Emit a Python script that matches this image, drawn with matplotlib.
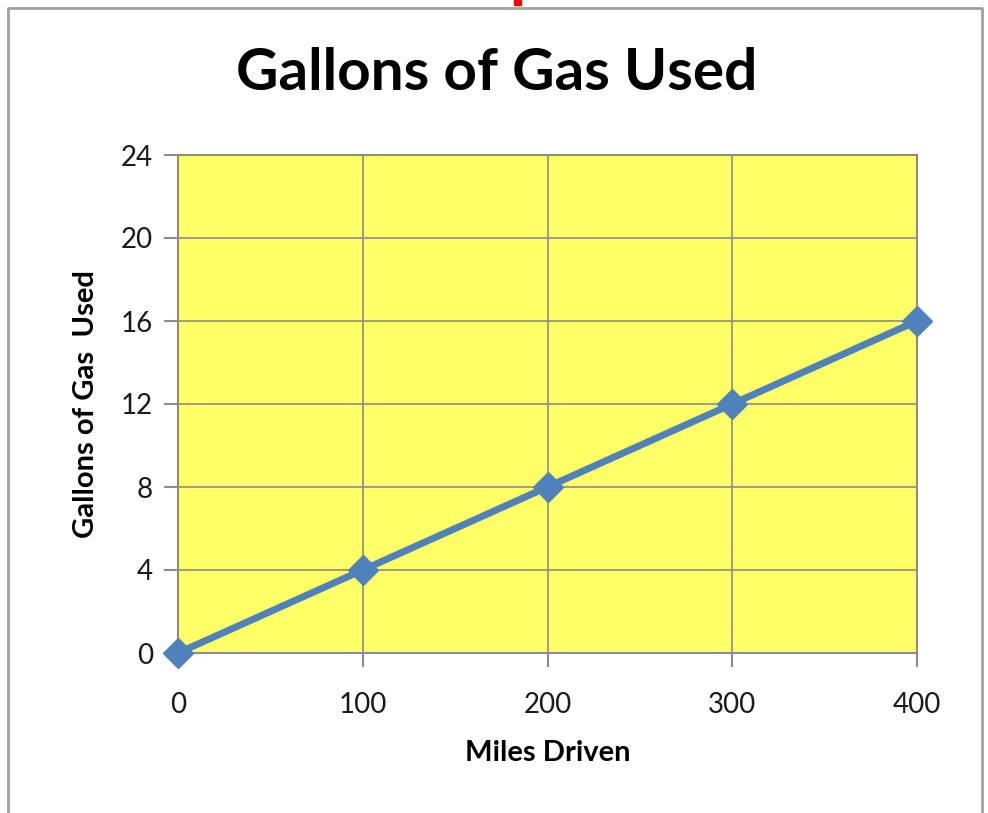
import matplotlib.pyplot as plt
from matplotlib.lines import Line2D
from matplotlib.patches import Rectangle

# data
miles = [0, 100, 200, 300, 400]
gallons = [0, 4, 8, 12, 16]
y_ticks = [0, 4, 8, 12, 16, 20, 24]
x_ticks = [0, 100, 200, 300, 400]

W, H = 988, 813
fig = plt.figure(figsize=(W / 100, H / 100), dpi=100)
plt.rcParams['font.family'] = ['Lato', 'DejaVu Sans']

# plot area in pixel coords: left 178, right 917, top 155, bottom 653
ax = fig.add_axes([178 / W, 1 - 653 / H, (917 - 178) / W, (653 - 155) / H])
ax.set_facecolor('#ffff66')

ax.plot(miles, gallons, color='#4f81bd', lw=5, marker='D', ms=15,
        clip_on=False, zorder=5)

ax.set_xlim(0, 400)
ax.set_ylim(0, 24)
ax.set_xticks(x_ticks)
ax.set_yticks(y_ticks)
ax.grid(True, color='#8c8c8c', lw=1.2)
ax.set_axisbelow(True)
for s in ax.spines.values():
    s.set_color('#8c8c8c')
    s.set_linewidth(1.5)
ax.tick_params(axis='both', colors='#8c8c8c', labelcolor='#1a1a1a',
               labelsize=20, length=10, width=1.5, direction='out')
ax.tick_params(axis='x', pad=18)
ax.tick_params(axis='y', pad=8)

ax.set_xlabel('Miles Driven', fontsize=21, fontweight='bold', labelpad=16)
ax.set_ylabel('Gallons of Gas  Used', fontsize=21, fontweight='bold', labelpad=16)

fig.text(497 / W, 1 - 73 / H, 'Gallons of Gas Used', ha='center', va='center',
         fontsize=42, fontweight='bold', color='black')

# chart outer frame (bottom edge cut off)
fig.add_artist(Line2D([8 / W, 8 / W, 982 / W, 982 / W],
                      [0, 1 - 8 / H, 1 - 8 / H, 0],
                      transform=fig.transFigure, color='#a0a0a0', lw=2))
# small red fragment at the top edge
fig.add_artist(Rectangle((514 / W, 1 - 5 / H), 7 / W, 5 / H,
                         transform=fig.transFigure, color='red'))

fig.savefig('out.png', dpi=100)
